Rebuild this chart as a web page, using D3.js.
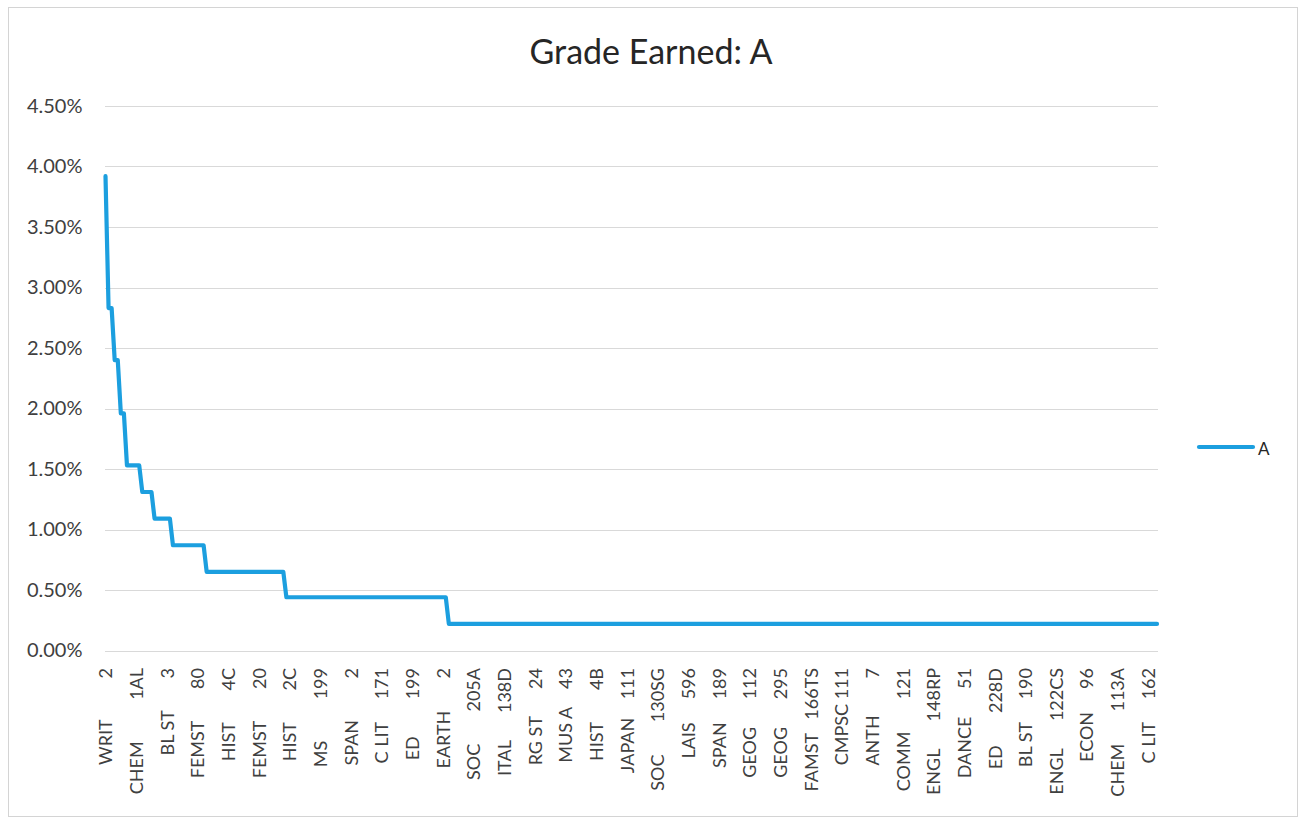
<!DOCTYPE html>
<html>
<head>
<meta charset="utf-8">
<script src="https://cdn.jsdelivr.net/npm/d3@7"></script>
<style>
  body { margin: 0; background: #ffffff; }
  svg text { font-family: Lato, "Open Sans", "Noto Sans", sans-serif; }
  .xlab { white-space: pre; }
</style>
</head>
<body>
<svg id="chart" width="1306" height="823"></svg>
<script>
// ---------------- data ----------------
const chartTitle = "Grade Earned: A";
const seriesName = "A";

// every 10th course code is shown on the axis
const labelEvery = 10;
const tickLabels = [
  "WRIT         2",
  "CHEM         1AL",
  "BL ST       3",
  "FEMST       80",
  "HIST       4C",
  "FEMST       20",
  "HIST       2C",
  "MS         199",
  "SPAN         2",
  "C LIT     171",
  "ED        199",
  "EARTH       2",
  "SOC       205A",
  "ITAL      138D",
  "RG ST      24",
  "MUS A    43",
  "HIST       4B",
  "JAPAN    111",
  "SOC       130SG",
  "LAIS     596",
  "SPAN     189",
  "GEOG      112",
  "GEOG      295",
  "FAMST   166TS",
  "CMPSC 111",
  "ANTH        7",
  "COMM       121",
  "ENGL      148RP",
  "DANCE      51",
  "ED       228D",
  "BL ST     190",
  "ENGL      122CS",
  "ECON     96",
  "CHEM       113A",
  "C LIT     162"
];

// share of all A grades, one value per course (sorted descending)
const values = [
  0.0392,
  0.0283, 0.0283,
  0.0240, 0.0240,
  0.0196, 0.0196,
  0.0153, 0.0153, 0.0153, 0.0153, 0.0153,
  0.0131, 0.0131, 0.0131, 0.0131,
  0.0109, 0.0109, 0.0109, 0.0109, 0.0109, 0.0109,
  0.0087, 0.0087, 0.0087, 0.0087, 0.0087, 0.0087, 0.0087, 0.0087, 0.0087, 0.0087, 0.0087,
  0.0065, 0.0065, 0.0065, 0.0065, 0.0065, 0.0065, 0.0065, 0.0065, 0.0065, 0.0065,
  0.0065, 0.0065, 0.0065, 0.0065, 0.0065, 0.0065, 0.0065, 0.0065, 0.0065, 0.0065,
  0.0065, 0.0065, 0.0065, 0.0065, 0.0065, 0.0065,
  0.0044, 0.0044, 0.0044, 0.0044, 0.0044, 0.0044, 0.0044, 0.0044, 0.0044, 0.0044,
  0.0044, 0.0044, 0.0044, 0.0044, 0.0044, 0.0044, 0.0044, 0.0044, 0.0044, 0.0044,
  0.0044, 0.0044, 0.0044, 0.0044, 0.0044, 0.0044, 0.0044, 0.0044, 0.0044, 0.0044,
  0.0044, 0.0044, 0.0044, 0.0044, 0.0044, 0.0044, 0.0044, 0.0044, 0.0044, 0.0044,
  0.0044, 0.0044, 0.0044, 0.0044, 0.0044, 0.0044, 0.0044, 0.0044, 0.0044, 0.0044,
  0.0044, 0.0044, 0.0044,
  0.0022, 0.0022, 0.0022, 0.0022, 0.0022, 0.0022, 0.0022, 0.0022, 0.0022, 0.0022,
  0.0022, 0.0022, 0.0022, 0.0022, 0.0022, 0.0022, 0.0022, 0.0022, 0.0022, 0.0022,
  0.0022, 0.0022, 0.0022, 0.0022, 0.0022, 0.0022, 0.0022, 0.0022, 0.0022, 0.0022,
  0.0022, 0.0022, 0.0022, 0.0022, 0.0022, 0.0022, 0.0022, 0.0022, 0.0022, 0.0022,
  0.0022, 0.0022, 0.0022, 0.0022, 0.0022, 0.0022, 0.0022, 0.0022, 0.0022, 0.0022,
  0.0022, 0.0022, 0.0022, 0.0022, 0.0022, 0.0022, 0.0022, 0.0022, 0.0022, 0.0022,
  0.0022, 0.0022, 0.0022, 0.0022, 0.0022, 0.0022, 0.0022, 0.0022, 0.0022, 0.0022,
  0.0022, 0.0022, 0.0022, 0.0022, 0.0022, 0.0022, 0.0022, 0.0022, 0.0022, 0.0022,
  0.0022, 0.0022, 0.0022, 0.0022, 0.0022, 0.0022, 0.0022, 0.0022, 0.0022, 0.0022,
  0.0022, 0.0022, 0.0022, 0.0022, 0.0022, 0.0022, 0.0022, 0.0022, 0.0022, 0.0022,
  0.0022, 0.0022, 0.0022, 0.0022, 0.0022, 0.0022, 0.0022, 0.0022, 0.0022, 0.0022,
  0.0022, 0.0022, 0.0022, 0.0022, 0.0022, 0.0022, 0.0022, 0.0022, 0.0022, 0.0022,
  0.0022, 0.0022, 0.0022, 0.0022, 0.0022, 0.0022, 0.0022, 0.0022, 0.0022, 0.0022,
  0.0022, 0.0022, 0.0022, 0.0022, 0.0022, 0.0022, 0.0022, 0.0022, 0.0022, 0.0022,
  0.0022, 0.0022, 0.0022, 0.0022, 0.0022, 0.0022, 0.0022, 0.0022, 0.0022, 0.0022,
  0.0022, 0.0022, 0.0022, 0.0022, 0.0022, 0.0022, 0.0022, 0.0022, 0.0022, 0.0022,
  0.0022, 0.0022, 0.0022, 0.0022, 0.0022, 0.0022, 0.0022, 0.0022, 0.0022, 0.0022,
  0.0022, 0.0022, 0.0022, 0.0022, 0.0022, 0.0022, 0.0022, 0.0022, 0.0022, 0.0022,
  0.0022, 0.0022, 0.0022, 0.0022, 0.0022, 0.0022, 0.0022, 0.0022, 0.0022, 0.0022,
  0.0022, 0.0022, 0.0022, 0.0022, 0.0022, 0.0022, 0.0022, 0.0022, 0.0022, 0.0022,
  0.0022, 0.0022, 0.0022, 0.0022, 0.0022, 0.0022, 0.0022, 0.0022, 0.0022, 0.0022,
  0.0022, 0.0022, 0.0022, 0.0022, 0.0022, 0.0022, 0.0022, 0.0022, 0.0022, 0.0022,
  0.0022, 0.0022, 0.0022, 0.0022, 0.0022, 0.0022, 0.0022, 0.0022, 0.0022, 0.0022,
  0.0022, 0.0022
];

const yTickValues = [0, 0.005, 0.01, 0.015, 0.02, 0.025, 0.03, 0.035, 0.04, 0.045];

// ---------------- layout ----------------
const plot = { left: 105.5, right: 1157, top: 106, bottom: 650.5 };
const lineColor = "#1c9fdf";
const gridColor = "#d9d9d9";
const textColor = "#404040";

const svg = d3.select("#chart");

svg.append("rect")
  .attr("x", 8.5).attr("y", 7.5)
  .attr("width", 1289).attr("height", 809)
  .attr("fill", "#ffffff")
  .attr("stroke", "#d4d4d4").attr("stroke-width", 1);

const x = d3.scalePoint()
  .domain(d3.range(values.length))
  .range([plot.left, plot.right]);

const y = d3.scaleLinear()
  .domain([0, 0.045])
  .range([plot.bottom, plot.top]);

// gridlines
svg.append("g")
  .selectAll("line")
  .data(yTickValues)
  .join("line")
  .attr("x1", plot.left - 0.5).attr("x2", plot.right + 1)
  .attr("y1", d => Math.round(y(d)) + 0.5).attr("y2", d => Math.round(y(d)) + 0.5)
  .attr("stroke", gridColor).attr("stroke-width", 1);

// y axis
const yAxis = svg.append("g")
  .attr("transform", `translate(${plot.left},0)`)
  .call(d3.axisLeft(y).tickValues(yTickValues).tickFormat(d3.format(".2%")).tickSize(0).tickPadding(23));
yAxis.select(".domain").remove();
yAxis.selectAll("text")
  .attr("font-size", 20)
  .attr("fill", textColor)
  .style("font-family", "Lato, 'Open Sans', sans-serif");

// x axis
const xTickValues = tickLabels.map((_, i) => i * labelEvery);
const xAxis = svg.append("g")
  .attr("transform", `translate(0,${plot.bottom})`)
  .call(d3.axisBottom(x).tickValues(xTickValues).tickFormat(d => tickLabels[d / labelEvery]).tickSize(0));
xAxis.select(".domain").remove();
xAxis.selectAll("text")
  .attr("class", "xlab")
  .attr("transform", "rotate(-90)")
  .attr("x", -17.5)
  .attr("y", 0)
  .attr("dy", "0.36em")
  .attr("text-anchor", "end")
  .attr("font-size", 18)
  .attr("fill", textColor)
  .style("font-family", "Lato, 'Open Sans', sans-serif");

// series line
const line = d3.line()
  .x((d, i) => x(i))
  .y(d => y(d));

svg.append("path")
  .datum(values)
  .attr("d", line)
  .attr("fill", "none")
  .attr("stroke", lineColor)
  .attr("stroke-width", 4.2)
  .attr("stroke-linejoin", "round")
  .attr("stroke-linecap", "round");

// title
svg.append("text")
  .attr("x", 651).attr("y", 64)
  .attr("text-anchor", "middle")
  .attr("font-size", 34)
  .attr("fill", "#262626")
  .text(chartTitle);

// legend
const legend = svg.append("g").attr("transform", "translate(1199,447)");
legend.append("line")
  .attr("x1", 0).attr("x2", 54).attr("y1", 0).attr("y2", 0)
  .attr("stroke", lineColor).attr("stroke-width", 4.2).attr("stroke-linecap", "round");
legend.append("text")
  .attr("x", 59).attr("y", 8)
  .attr("font-size", 17)
  .attr("fill", "#262626")
  .text(seriesName);
</script>
</body>
</html>
